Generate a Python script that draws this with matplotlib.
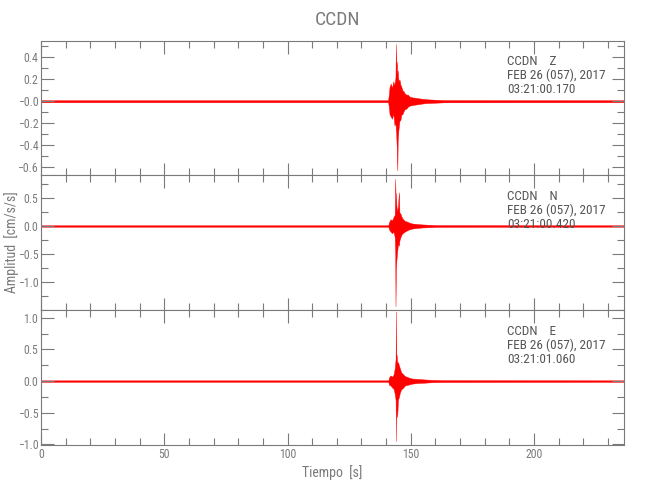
import matplotlib
matplotlib.use("Agg")
import matplotlib.pyplot as plt
from matplotlib import font_manager
from matplotlib.ticker import MultipleLocator

# buscar una fuente angosta parecida a la de IDL
nombres = set(f.name for f in font_manager.fontManager.ttflist)
estrecha = [f for f in font_manager.fontManager.ttflist
            if f.name == "DejaVu Sans" and "ondensed" in f.fname]
fuente = "DejaVu Sans"
for cand in ["Liberation Sans Narrow", "Roboto Condensed", "Open Sans Condensed"]:
    if cand in nombres:
        fuente = cand
        break
plt.rcParams['font.family'] = [fuente, 'DejaVu Sans']
if fuente == "DejaVu Sans" and estrecha:
    plt.rcParams['font.stretch'] = 'condensed'

estacion = "CCDN"
fecha = "FEB 26 (057), 2017"
componentes = ["Z", "N", "E"]
horas = ["03:21:00.170", "03:21:00.420", "03:21:01.060"]

# envolvente: tiempo [s], maximo y minimo [cm/s/s]
t_z = [0, 140.8, 141.1, 141.4, 141.9, 142.4, 142.9, 143.4, 143.8, 143.95, 144.1,
       144.3, 144.55, 144.7, 145.0, 145.4, 145.8, 146.2, 146.6, 147.1, 147.6,
       148.1, 148.8, 149.6, 150.6, 152.1, 153.6, 155.6, 157.6, 160.6, 163.6, 236.5]
sup_z = [0.009, 0.009, 0.06, 0.13, 0.16, 0.12, 0.18, 0.15, 0.22, 0.52, 0.30,
         0.36, 0.25, 0.28, 0.18, 0.20, 0.15, 0.13, 0.10, 0.09, 0.07,
         0.06, 0.06, 0.04, 0.035, 0.03, 0.025, 0.02, 0.016, 0.013, 0.01, 0.009]
inf_z = [-0.009, -0.009, -0.05, -0.12, -0.14, -0.16, -0.11, -0.22, -0.20, -0.26, -0.30,
         -0.42, -0.63, -0.36, -0.26, -0.18, -0.17, -0.12, -0.12, -0.09, -0.07,
         -0.07, -0.05, -0.04, -0.035, -0.03, -0.025, -0.018, -0.016, -0.013, -0.01, -0.009]

t_n = [0, 140.9, 141.2, 141.8, 142.4, 143.0, 143.5, 143.7, 143.8, 143.95, 144.2,
       144.5, 144.8, 145.2, 145.4, 145.8, 146.3, 146.9, 147.6, 148.4, 149.4,
       150.6, 152.6, 154.6, 157.6, 160.6, 236.5]
sup_n = [0.013, 0.013, 0.07, 0.12, 0.10, 0.16, 0.20, 0.84, 0.60, 0.57, 0.35,
         0.26, 0.35, 0.60, 0.24, 0.22, 0.16, 0.12, 0.09, 0.08, 0.06,
         0.045, 0.035, 0.028, 0.022, 0.016, 0.013]
inf_n = [-0.013, -0.013, -0.06, -0.10, -0.13, -0.10, -0.20, -0.50, -1.43, -0.79, -0.60,
         -0.45, -0.32, -0.35, -0.26, -0.20, -0.15, -0.12, -0.10, -0.08, -0.06,
         -0.045, -0.035, -0.026, -0.022, -0.016, -0.013]

t_e = [0, 140.9, 141.2, 141.8, 142.4, 143.0, 143.5, 143.85, 143.95, 144.05, 144.3,
       144.5, 144.8, 145.2, 145.6, 146.1, 146.8, 147.6, 148.6, 149.6, 150.6,
       152.6, 155.6, 158.6, 162.6, 236.5]
sup_e = [0.012, 0.012, 0.06, 0.09, 0.07, 0.10, 0.20, 0.35, 1.10, 0.45, 0.40,
         0.30, 0.30, 0.25, 0.20, 0.14, 0.11, 0.08, 0.065, 0.05, 0.04,
         0.035, 0.026, 0.02, 0.015, 0.012]
inf_e = [-0.012, -0.012, -0.06, -0.07, -0.10, -0.12, -0.20, -0.30, -0.95, -0.45, -0.47,
         -0.57, -0.30, -0.25, -0.18, -0.13, -0.11, -0.07, -0.06, -0.05, -0.04,
         -0.03, -0.025, -0.018, -0.015, -0.012]

limites_y = [(-0.675, 0.55), (-1.5, 0.9), (-1.01, 1.12)]
ticks_y = [[0.4, 0.2, 0.0, -0.2, -0.4, -0.6], [0.5, 0.0, -0.5, -1.0], [1.0, 0.5, 0.0, -0.5, -1.0]]
etiq_y = [["0.4", "0.2", "\u22120.0", "\u22120.2", "\u22120.4", "\u22120.6"],
          ["0.5", "0.0", "\u22120.5", "\u22121.0"],
          ["1.0", "0.5", "0.0", "\u22120.5", "\u22121.0"]]
menor_y = [0.1, 0.25, 0.25]
ticks_x = [0, 50, 100, 150, 200]

datos = [(t_z, sup_z, inf_z), (t_n, sup_n, inf_n), (t_e, sup_e, inf_e)]

gris = "#7a7a7a"
fig = plt.figure(figsize=(6.5, 5), dpi=100)

izq, der = 41 / 650, 624 / 650
arriba, abajo = 1 - 40.7 / 500, 1 - 445 / 500
alto = (arriba - abajo) / 3

for i in range(3):
    ax = fig.add_axes([izq, arriba - (i + 1) * alto, der - izq, alto])
    t, sup, inf = datos[i]
    ax.fill_between(t, inf, sup, color="red", linewidth=0.3, edgecolor="red")
    ax.set_xlim(0, 236.5)
    ax.set_ylim(*limites_y[i])
    ax.set_yticks(ticks_y[i])
    ax.set_yticklabels(etiq_y[i])
    ax.yaxis.set_minor_locator(MultipleLocator(menor_y[i]))
    ax.set_xticks(ticks_x)
    ax.xaxis.set_minor_locator(MultipleLocator(10))
    ax.tick_params(which="both", direction="in", top=True, right=True,
                   color=gris, labelcolor=gris, labelsize=8.5, width=0.8, pad=2)
    ax.tick_params(which="major", length=9)
    ax.tick_params(which="minor", length=5)
    for s in ax.spines.values():
        s.set_color(gris)
        s.set_linewidth(0.8)
    if i < 2:
        ax.set_xticklabels([])
    else:
        ax.set_xlabel("Tiempo  [s]", color=gris, fontsize=10, labelpad=3)
    lineas = [estacion + "    " + componentes[i], fecha, horas[i]]
    for k, txt in enumerate(lineas):
        ax.text(0.80, 0.845 - k * 0.104, txt, transform=ax.transAxes,
                fontsize=9.5, color="#555555", va="center", ha="left")

fig.text(0.519, 0.96, estacion, ha="center", va="center", fontsize=14, color=gris)
fig.text(0.018, 0.516, "Amplitud  [cm/s/s]", rotation=90, ha="center", va="center",
         fontsize=10, color=gris)

fig.savefig("out.png", dpi=100)
